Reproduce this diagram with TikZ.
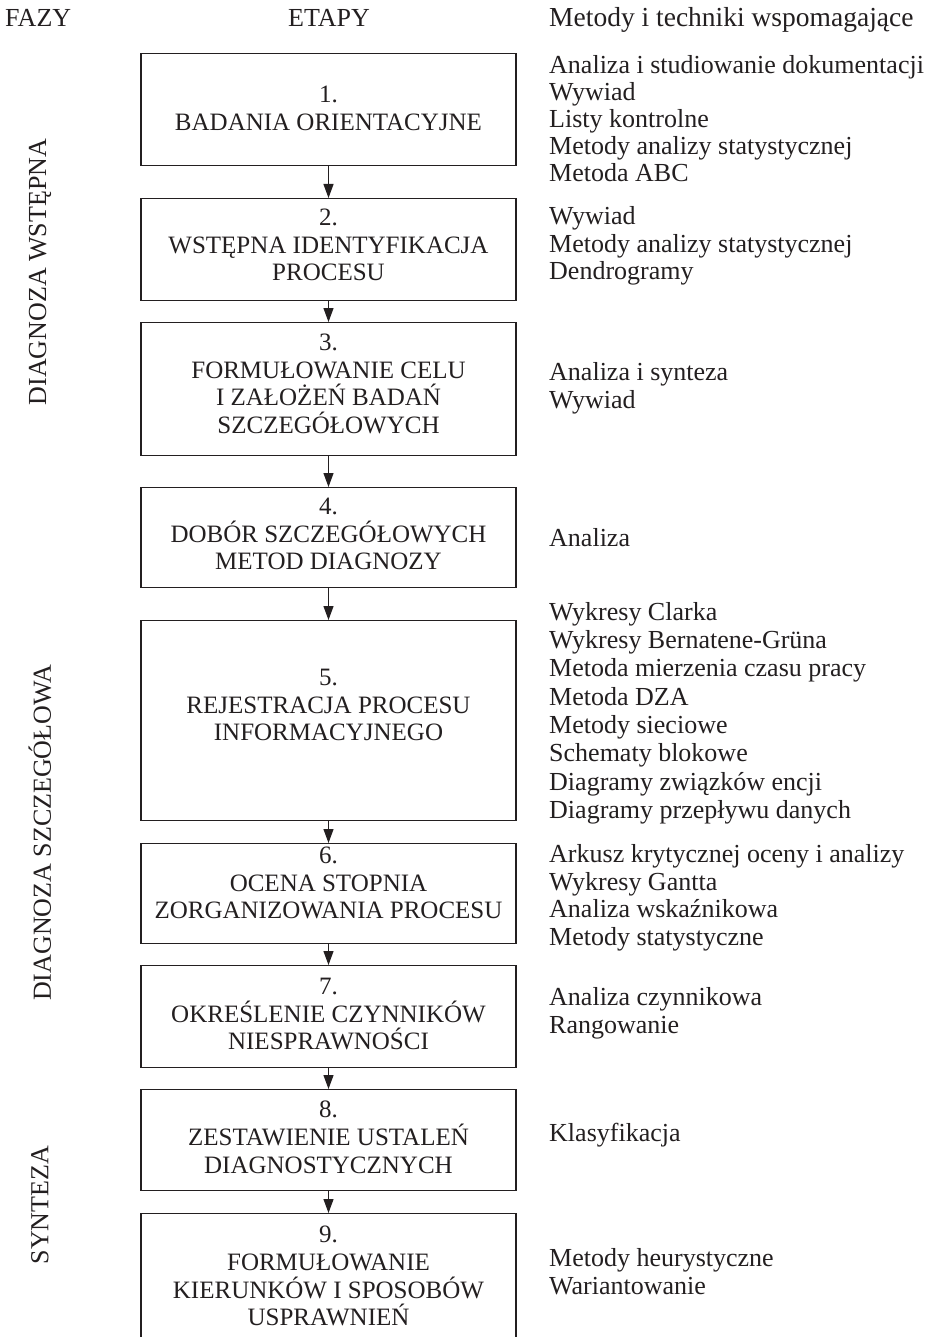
\documentclass[tikz,border=0pt]{standalone}
\usepackage{fontspec}
\setmainfont{Liberation Serif}
\usetikzlibrary{arrows.meta}
\definecolor{ink}{HTML}{231F20}
\begin{document}
\begin{tikzpicture}[x=1pt,y={(0pt,-1pt)},
 stagebox/.style={draw=ink,line width=1.4pt,minimum width=375pt,inner sep=0pt,anchor=north},
 stagetext/.style={text=ink,align=center,font=\fontsize{25}{27.8}\selectfont,inner sep=0pt},
 methods/.style={text=ink,align=left,font=\fontsize{26}{27.8}\selectfont,inner sep=0pt,anchor=north west},
 head/.style={text=ink,font=\fontsize{26}{28}\selectfont,inner sep=0pt},
 phase/.style={text=ink,font=\fontsize{26}{28}\selectfont,inner sep=0pt,rotate=90},
 flow/.style={draw=ink,line width=1.2pt,-{Triangle[width=10pt,length=14pt]}}]
\useasboundingbox[fill=white] (0,0) rectangle (931,1337);

% headers
\node[head,anchor=base west] (hf) at (5,27) {FAZY};
\node[head,anchor=base] (he) at (329,27) {ETAPY};
\node[head,anchor=base west,font=\fontsize{27.5}{28}\selectfont] (hm) at (549,27) {Metody i techniki wspomagające};

% phases
\node[phase] (p1) at (40,272) {DIAGNOZA WSTĘPNA};
\node[phase] (p2) at (40,833) {DIAGNOZA SZCZEGÓŁOWA};
\node[phase] (p3) at (40,1205) {SYNTEZA};

% boxes
\node[stagebox,minimum height=112pt] (b1) at (328.5,53) {};
\node[stagebox,minimum height=102pt] (b2) at (328.5,198) {};
\node[stagebox,minimum height=133pt] (b3) at (328.5,322) {};
\node[stagebox,minimum height=100pt] (b4) at (328.5,487) {};
\node[stagebox,minimum height=200pt] (b5) at (328.5,620) {};
\node[stagebox,minimum height=100pt] (b6) at (328.5,843) {};
\node[stagebox,minimum height=102pt] (b7) at (328.5,965) {};
\node[stagebox,minimum height=101pt] (b8) at (328.5,1089) {};
\node[stagebox,minimum height=127pt] (b9) at (328.5,1213) {};

% box texts
\node[stagetext] (t1) at (328.5,108) {1.\\BADANIA ORIENTACYJNE};
\node[stagetext] (t2) at (328.5,245) {2.\\WSTĘPNA IDENTYFIKACJA\\PROCESU};
\node[stagetext] (t3) at (328.5,384) {3.\\FORMUŁOWANIE CELU\\I ZAŁOŻEŃ BADAŃ\\SZCZEGÓŁOWYCH};
\node[stagetext] (t4) at (328.5,534) {4.\\DOBÓR SZCZEGÓŁOWYCH\\METOD DIAGNOZY};
\node[stagetext] (t5) at (328.5,705) {5.\\REJESTRACJA PROCESU\\INFORMACYJNEGO};
\node[stagetext] (t6) at (328.5,883) {6.\\OCENA STOPNIA\\ZORGANIZOWANIA PROCESU};
\node[stagetext] (t7) at (328.5,1014) {7.\\OKREŚLENIE CZYNNIKÓW\\NIESPRAWNOŚCI};
\node[stagetext] (t8) at (328.5,1137) {8.\\ZESTAWIENIE USTALEŃ\\DIAGNOSTYCZNYCH};
\node[stagetext] (t9) at (328.5,1276) {9.\\FORMUŁOWANIE\\KIERUNKÓW I SPOSOBÓW\\USPRAWNIEŃ};

% arrows
\draw[flow] (b1.south) -- (b2.north);
\draw[flow] (b2.south) -- (b3.north);
\draw[flow] (b3.south) -- (b4.north);
\draw[flow] (b4.south) -- (b5.north);
\draw[flow] (b5.south) -- (b6.north);
\draw[flow] (b6.south) -- (b7.north);
\draw[flow] (b7.south) -- (b8.north);
\draw[flow] (b8.south) -- (b9.north);

% methods
\node[methods,font=\fontsize{26}{27}\selectfont] (m1) at (549,55) {Analiza i studiowanie dokumentacji\\Wywiad\\Listy kontrolne\\Metody analizy statystycznej\\Metoda ABC};
\node[methods] (m2) at (549,206) {Wywiad\\Metody analizy statystycznej\\Dendrogramy};
\node[methods] (m3) at (549,362) {Analiza i synteza\\Wywiad};
\node[methods] (m4) at (549,528) {Analiza};
\node[methods,font=\fontsize{26}{28.3}\selectfont] (m5) at (549,602) {Wykresy Clarka\\Wykresy Bernatene-Grüna\\Metoda mierzenia czasu pracy\\Metoda DZA\\Metody sieciowe\\Schematy blokowe\\Diagramy związków encji\\Diagramy przepływu danych};
\node[methods] (m6) at (549,844) {Arkusz krytycznej oceny i analizy\\Wykresy Gantta\\Analiza wskaźnikowa\\Metody statystyczne};
\node[methods] (m7) at (549,987) {Analiza czynnikowa\\Rangowanie};
\node[methods] (m8) at (549,1123) {Klasyfikacja};
\node[methods] (m9) at (549,1248) {Metody heurystyczne\\Wariantowanie};
\end{tikzpicture}
\end{document}
